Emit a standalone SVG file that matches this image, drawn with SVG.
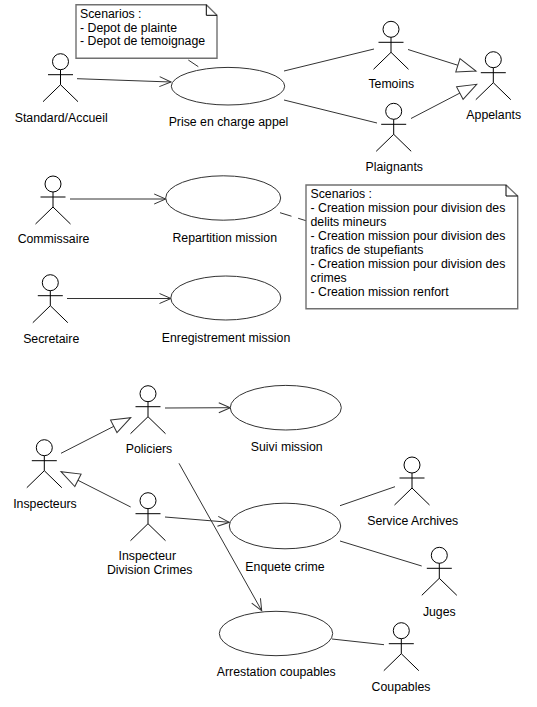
<svg xmlns="http://www.w3.org/2000/svg" width="537" height="707" viewBox="0 0 537 707">
<style>
text{font-family:"Liberation Sans",Arial,sans-serif;font-size:12.3px;fill:#000}
.c{text-anchor:middle}
.a{fill:#fff;stroke:#000;stroke-width:1}
.u{fill:#fff;stroke:#333;stroke-width:1}
.n{fill:#fff;stroke:#707070;stroke-width:1.4}
.f{fill:none;stroke:#000;stroke-width:1}
.l{fill:none;stroke:#333;stroke-width:1}
.o{marker-end:url(#open)}
.h{marker-end:url(#hollow)}
.d{stroke-dasharray:12 7}
</style>
<defs>
<marker id="open" markerUnits="userSpaceOnUse" markerWidth="14" markerHeight="14" viewBox="-12 -7 14 14" refX="0" refY="0" orient="auto" overflow="visible"><path d="M-11.5-5 0 0-11.5 5" fill="none" stroke="#333" stroke-width="1"/></marker>
<marker id="hollow" markerUnits="userSpaceOnUse" markerWidth="24" markerHeight="20" viewBox="-21 -10 24 20" refX="0" refY="0" orient="auto" overflow="visible"><path d="M-19-7 0 0-19 7Z" fill="#fff" stroke="#333" stroke-width="1"/></marker>
<g id="actor"><circle class="a" cx="0" cy="0" r="8"/><path class="f" d="M0 8V23M-12.5 13H12.5M-17.5 40 0 23 17.5 40"/></g>
</defs>
<g id="connectors">
<path class="l o" d="M77 78.7 171 82"/>
<path class="l" d="M188.3 60 198.3 66.7"/>
<path class="l" d="M284 71 374 49"/>
<path class="l" d="M284 100 377 123"/>
<path class="l h" d="M408 49.5 476 71"/>
<path class="l h" d="M411 118.5 476.7 84.3"/>
<path class="l o" d="M70 199H165.7"/>
<path class="l d" d="M280 212.7 306 220.7"/>
<path class="l o" d="M67 298.5H171"/>
<path class="l o" d="M165 408 230.3 407.7"/>
<path class="l h" d="M61 453.3 130.7 417.7"/>
<path class="l h" d="M130.7 507 61 471.7"/>
<path class="l o" d="M165 517 229.3 522.3"/>
<path class="l o" d="M179 463.3 261.7 610.7"/>
<path class="l" d="M340 505.7 395 486.7"/>
<path class="l" d="M340 541 421.7 566"/>
<path class="l" d="M332 639 384 644.7"/>
</g>
<g id="note-appel"><path class="n" d="M76 4.7H206.3L217 15.3V58.3H76Z"/><path class="f" d="M206.3 4.7V15.3H217"/><text x="80" y="17.7">Scenarios :</text><text x="80" y="31.5">- Depot de plainte</text><text x="80" y="45.3">- Depot de temoignage</text></g>
<g id="note-repartition"><path class="n" d="M306 185H506L517.7 196V308.7H306Z"/><path class="f" d="M506 185V196H517.7"/><text x="310.5" y="197.7">Scenarios :</text><text x="310.5" y="211.7">- Creation mission pour division des</text><text x="310.5" y="225.7">delits mineurs</text><text x="310.5" y="239.7">- Creation mission pour division des</text><text x="310.5" y="253.7">trafics de stupefiants</text><text x="310.5" y="267.7">- Creation mission pour division des</text><text x="310.5" y="281.7">crimes</text><text x="310.5" y="295.7">- Creation mission renfort</text></g>
<g id="standard"><use href="#actor" x="60.5" y="61.7"/><text class="c" x="61.2" y="121.7">Standard/Accueil</text></g>
<g id="temoins"><use href="#actor" x="391" y="29.3"/><text class="c" x="391.3" y="88">Temoins</text></g>
<g id="plaignants"><use href="#actor" x="393.7" y="111.3"/><text class="c" x="394.3" y="171.3">Plaignants</text></g>
<g id="appelants"><use href="#actor" x="493.3" y="59.7"/><text class="c" x="493.7" y="119.3">Appelants</text></g>
<g id="commissaire"><use href="#actor" x="53" y="184"/><text class="c" x="53.5" y="243.3">Commissaire</text></g>
<g id="secretaire"><use href="#actor" x="50.3" y="282.7"/><text class="c" x="51.2" y="342.7">Secretaire</text></g>
<g id="policiers"><use href="#actor" x="148" y="393.7"/><text class="c" x="149" y="452.7">Policiers</text></g>
<g id="inspecteurs"><use href="#actor" x="44.3" y="447.7"/><text class="c" x="45" y="507.7">Inspecteurs</text></g>
<g id="inspecteur-crimes"><use href="#actor" x="148" y="500.7"/><text class="c" x="147.3" y="560.3">Inspecteur</text><text class="c" x="149.7" y="574.3">Division Crimes</text></g>
<g id="archives"><use href="#actor" x="412" y="465"/><text class="c" x="412.7" y="525.3">Service Archives</text></g>
<g id="juges"><use href="#actor" x="439.3" y="555.3"/><text class="c" x="439.3" y="615.7">Juges</text></g>
<g id="coupables"><use href="#actor" x="401.3" y="630.7"/><text class="c" x="401" y="690.7">Coupables</text></g>
<g id="uc-prise"><ellipse class="u" cx="228" cy="86.2" rx="56.7" ry="18.8"/><text class="c" x="228.5" y="125.5">Prise en charge appel</text></g>
<g id="uc-repartition"><ellipse class="u" cx="223.2" cy="198" rx="57.5" ry="22.2"/><text class="c" x="224.7" y="241.7">Repartition mission</text></g>
<g id="uc-enregistrement"><ellipse class="u" cx="225.8" cy="298" rx="55" ry="22"/><text class="c" x="226" y="341.7">Enregistrement mission</text></g>
<g id="uc-suivi"><ellipse class="u" cx="285.8" cy="407.7" rx="55.5" ry="22.3"/><text class="c" x="286.7" y="450.7">Suivi mission</text></g>
<g id="uc-enquete"><ellipse class="u" cx="285" cy="526" rx="55.7" ry="22.8"/><text class="c" x="285" y="570.7">Enquete crime</text></g>
<g id="uc-arrestation"><ellipse class="u" cx="276" cy="633.5" rx="56.7" ry="22.2"/><text class="c" x="276.3" y="676">Arrestation coupables</text></g>
</svg>
